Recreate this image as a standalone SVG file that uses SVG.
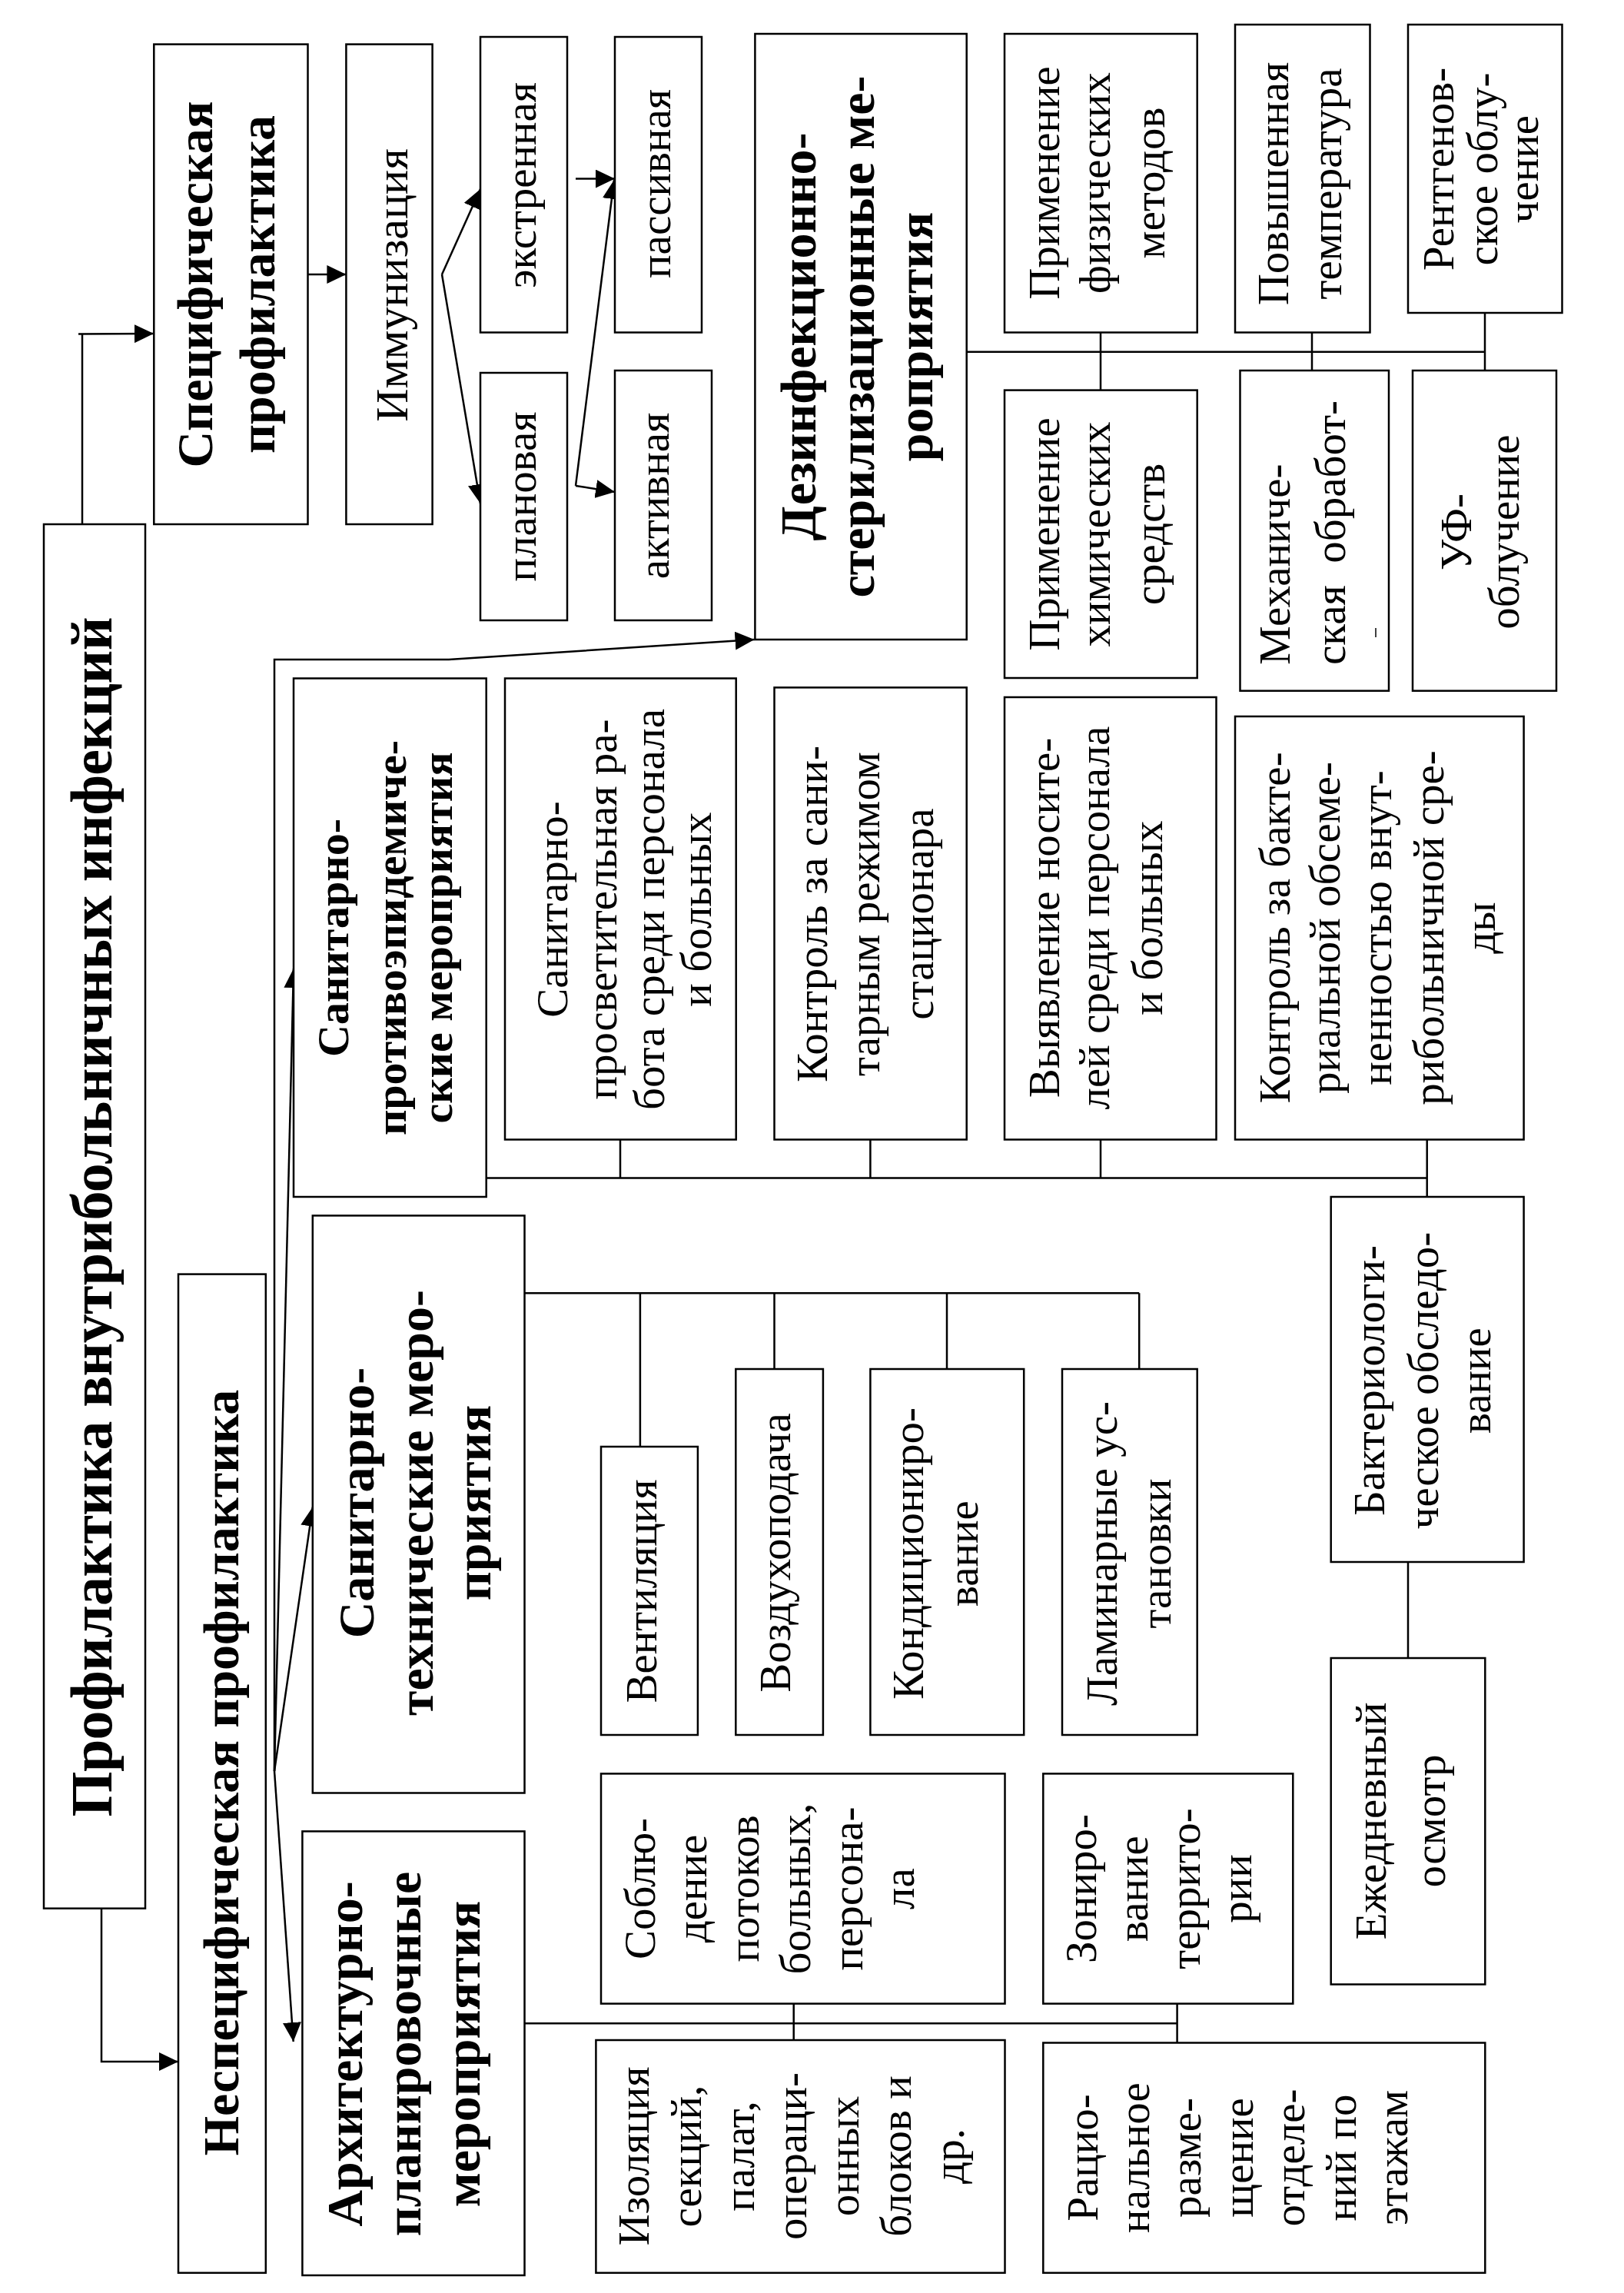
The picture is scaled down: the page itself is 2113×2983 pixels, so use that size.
<svg xmlns="http://www.w3.org/2000/svg" width="2113" height="2983" viewBox="0 0 2113 2983">
<style>
.box{fill:#fff;stroke:#000;stroke-width:2.5}
.ln{fill:none;stroke:#000;stroke-width:2.5}
text{font-family:"Liberation Serif","Times New Roman",serif;fill:#000}
.t{font-size:57px}
.b{font-size:66px;font-weight:bold}
</style>
<defs>
<marker id="ah" markerUnits="userSpaceOnUse" markerWidth="26" markerHeight="24" refX="25" refY="12" orient="auto" viewBox="0 0 26 24"><path d="M0,0 L25,12 L0,24 z" fill="#000"/></marker>
</defs>
<rect width="2113" height="2983" fill="#fff"/>

<g id="connectors" class="ln">
<path d="M107,682 V434"/>
<path d="M102,434.5 L200,434" marker-end="url(#ah)"/>
<path d="M400.5,357 H450.4" marker-end="url(#ah)"/>
<path d="M575,357 L625,246" marker-end="url(#ah)"/>
<path d="M575,357 L625,655" marker-end="url(#ah)"/>
<path d="M749,232.6 H800" marker-end="url(#ah)"/>
<path d="M749,632 L799,234" marker-end="url(#ah)"/>
<path d="M749,632 L800,640" marker-end="url(#ah)"/>
<path d="M357,2304 V858 H584 L981.5,832" marker-end="url(#ah)"/>
<path d="M357,2304 L382,1260" marker-end="url(#ah)"/>
<path d="M357,2304 L406.8,1960.6" marker-end="url(#ah)"/>
<path d="M357,2304 L381.7,2656" marker-end="url(#ah)"/>
<path d="M632.7,1532.4 H1856.7 M807,1482.5 V1532.4 M1132.4,1482.5 V1532.4 M1432,1482.5 V1532.4 M1856.7,1482.5 V1557"/>
<path d="M1257.7,457.7 H1932 M1432,432.5 V507.6 M1707,432.5 V482 M1932,407 V482"/>
<path d="M682.5,1682.3 H1482.2 M832.9,1682.3 V1882 M1007.5,1682.3 V1781 M1232,1682.3 V1781 M1482.2,1682.3 V1781"/>
<path d="M1832,2032 V2157"/>
<path d="M682.5,2632.3 H1531.6 M1032.7,2606.6 V2654 M1531.6,2606.6 V2657.5"/>
<path d="M132,2482.7 V2682 H232" marker-end="url(#ah)"/>
</g>

<g id="n-main"><rect class="box" x="57" y="682" width="132" height="1800.7"/>
<text class="b" style="font-size:76px" text-anchor="middle" transform="translate(57,1583) rotate(-90)"><tspan x="0" y="87.6" textLength="1561" lengthAdjust="spacing">Профилактика внутрибольничных инфекций</tspan></text></g>

<g id="n-spec"><rect class="box" x="200.3" y="57.6" width="200.2" height="624.4"/>
<text class="b" text-anchor="middle" transform="translate(200,370) rotate(-90)"><tspan x="0" y="76">Специфическая</tspan><tspan x="0" y="157">профилактика</tspan></text></g>

<g id="n-immun"><rect class="box" x="450.4" y="57.6" width="112.2" height="624.4"/>
<text class="t" style="font-size:60px" text-anchor="middle" transform="translate(450,371) rotate(-90)"><tspan x="0" y="80">Иммунизация</tspan></text></g>

<g id="n-extr"><rect class="box" x="625" y="48" width="113" height="384.5"/>
<text class="t" text-anchor="middle" transform="translate(625,241) rotate(-90)"><tspan x="0" y="72">экстренная</tspan></text></g>

<g id="n-pass"><rect class="box" x="800" y="48" width="113" height="384.5"/>
<text class="t" text-anchor="middle" transform="translate(800,239) rotate(-90)"><tspan x="0" y="72">пассивная</tspan></text></g>

<g id="n-plan"><rect class="box" x="625" y="485" width="113" height="322"/>
<text class="t" text-anchor="middle" transform="translate(625,646) rotate(-90)"><tspan x="0" y="72">плановая</tspan></text></g>

<g id="n-act"><rect class="box" x="800" y="482" width="126" height="325"/>
<text class="t" text-anchor="middle" transform="translate(800,645) rotate(-90)"><tspan x="0" y="70">активная</tspan></text></g>

<g id="n-dez"><rect class="box" x="982.4" y="44" width="275.3" height="788"/>
<text class="b" text-anchor="middle" transform="translate(982,438) rotate(-90)"><tspan x="0" y="79">Дезинфекционно-</tspan><tspan x="0" y="155">стерилизационные ме-</tspan><tspan x="0" y="231">роприятия</tspan></text></g>

<g id="n-phys"><rect class="box" x="1307" y="44" width="250.7" height="388.5"/>
<text class="t" text-anchor="middle" transform="translate(1307,238) rotate(-90)"><tspan x="0" y="70.6">Применение</tspan><tspan x="0" y="137">физических</tspan><tspan x="0" y="207.6">методов</tspan></text></g>

<g id="n-chem"><rect class="box" x="1307" y="507.6" width="250.7" height="374.4"/>
<text class="t" text-anchor="middle" transform="translate(1307,695) rotate(-90)"><tspan x="0" y="70.6">Применение</tspan><tspan x="0" y="137">химических</tspan><tspan x="0" y="207.6">средств</tspan></text></g>

<g id="n-temp"><rect class="box" x="1607" y="32" width="175.5" height="400.5"/>
<text class="t" text-anchor="middle" transform="translate(1607,239) rotate(-90)"><tspan x="0" y="69.4">Повышенная</tspan><tspan x="0" y="138">температура</tspan></text></g>

<g id="n-xray"><rect class="box" x="1832" y="32" width="200.5" height="375"/>
<text class="t" text-anchor="middle" transform="translate(1832,220) rotate(-90)"><tspan x="0" y="59.4">Рентгенов-</tspan><tspan x="0" y="115.6">ское облу-</tspan><tspan x="0" y="168.6">чение</tspan></text></g>

<g id="n-mech"><rect class="box" x="1613.5" y="482" width="193.5" height="416.7"/>
<text class="t" text-anchor="start" xml:space="preserve" transform="translate(1613.5,865) rotate(-90)"><tspan x="0" y="64.3">Механиче-</tspan><tspan x="0" y="136.2">ская  обработ-</tspan></text>
<path d="M1790,817 V829" stroke="#000" stroke-width="1.5"/></g>

<g id="n-uv"><rect class="box" x="1838" y="482" width="187" height="416.7"/>
<text class="t" text-anchor="middle" transform="translate(1838,692) rotate(-90)"><tspan x="0" y="76">УФ-</tspan><tspan x="0" y="137.5">облучение</tspan></text></g>

<g id="n-spe"><rect class="box" x="382" y="882.5" width="250.7" height="674.5"/>
<text class="b" style="font-size:58px" text-anchor="middle" transform="translate(382,1220) rotate(-90)"><tspan x="0" y="70.6">Санитарно-</tspan><tspan x="0" y="145.6">противоэпидемиче-</tspan><tspan x="0" y="206">ские мероприятия</tspan></text></g>

<g id="n-edu"><rect class="box" x="657" y="882.5" width="300.7" height="600"/>
<text class="t" text-anchor="middle" transform="translate(657,1183) rotate(-90)"><tspan x="0" y="81">Санитарно-</tspan><tspan x="0" y="145">просветительная ра-</tspan><tspan x="0" y="207">бота среди персонала</tspan><tspan x="0" y="268">и больных</tspan></text></g>

<g id="n-ctrl"><rect class="box" x="1007.5" y="894.4" width="250.2" height="588.1"/>
<text class="t" text-anchor="middle" transform="translate(1007.5,1189) rotate(-90)"><tspan x="0" y="68.3">Контроль за сани-</tspan><tspan x="0" y="136.5">тарным режимом</tspan><tspan x="0" y="206.2">стационара</tspan></text></g>

<g id="n-carr"><rect class="box" x="1307" y="907" width="275.5" height="575.5"/>
<text class="t" text-anchor="middle" transform="translate(1307,1194) rotate(-90)"><tspan x="0" y="70.5">Выявление носите-</tspan><tspan x="0" y="136">лей среди персонала</tspan><tspan x="0" y="205">и больных</tspan></text></g>

<g id="n-bact"><rect class="box" x="1607" y="932" width="375.6" height="550.5"/>
<text class="t" text-anchor="middle" transform="translate(1607,1207) rotate(-90)"><tspan x="0" y="70.8">Контроль за бакте-</tspan><tspan x="0" y="136">риальной обсеме-</tspan><tspan x="0" y="203.4">ненностью внут-</tspan><tspan x="0" y="270.9">рибольничной сре-</tspan><tspan x="0" y="338.3">ды</tspan></text></g>

<g id="n-bexam"><rect class="box" x="1731.7" y="1557" width="250.9" height="475"/>
<text class="t" text-anchor="middle" transform="translate(1731.7,1796) rotate(-90)"><tspan x="0" y="69.7">Бактериологи-</tspan><tspan x="0" y="139.3">ческое обследо-</tspan><tspan x="0" y="206.9">вание</tspan></text></g>

<g id="n-daily"><rect class="box" x="1731.7" y="2157" width="200.6" height="424.5"/>
<text class="t" text-anchor="middle" transform="translate(1731.7,2369) rotate(-90)"><tspan x="0" y="71.1">Ежедневный</tspan><tspan x="0" y="148.3">осмотр</tspan></text></g>

<g id="n-tech"><rect class="box" x="406.8" y="1581.4" width="275.7" height="751.1"/>
<text class="b" text-anchor="middle" transform="translate(406.8,1955) rotate(-90)"><tspan x="0" y="79.5">Санитарно-</tspan><tspan x="0" y="156.7">технические меро-</tspan><tspan x="0" y="230.8">приятия</tspan></text></g>

<g id="n-vent"><rect class="box" x="782" y="1882" width="125.9" height="375"/>
<text class="t" text-anchor="middle" transform="translate(782,2070) rotate(-90)"><tspan x="0" y="71.5">Вентиляция</tspan></text></g>

<g id="n-air"><rect class="box" x="957.3" y="1781" width="113.6" height="476"/>
<text class="t" text-anchor="middle" transform="translate(957.3,2020) rotate(-90)"><tspan x="0" y="70.7">Воздухоподача</tspan></text></g>

<g id="n-cond"><rect class="box" x="1132.4" y="1781" width="199.8" height="476"/>
<text class="t" text-anchor="middle" transform="translate(1132.4,2021) rotate(-90)"><tspan x="0" y="69.1">Кондициониро-</tspan><tspan x="0" y="139.6">вание</tspan></text></g>

<g id="n-lam"><rect class="box" x="1382" y="1781" width="175.7" height="476"/>
<text class="t" text-anchor="middle" transform="translate(1382,2021) rotate(-90)"><tspan x="0" y="71">Ламинарные ус-</tspan><tspan x="0" y="140.7">тановки</tspan></text></g>

<g id="n-arch"><rect class="box" x="393.4" y="2382.4" width="289.1" height="577.6"/>
<text class="b" text-anchor="middle" transform="translate(393.4,2672) rotate(-90)"><tspan x="0" y="78.1">Архитектурно-</tspan><tspan x="0" y="153.6">планировочные</tspan><tspan x="0" y="230.6">мероприятия</tspan></text></g>

<g id="n-nonspec"><rect class="box" x="232" y="1657.6" width="113.8" height="1299.2"/>
<text class="b" text-anchor="middle" transform="translate(232,2306) rotate(-90)"><tspan x="0" y="78">Неспецифическая профилактика</tspan></text></g>

<g id="n-flow"><rect class="box" x="782" y="2307.4" width="525.5" height="299.2"/>
<text class="t" text-anchor="middle" transform="translate(782,2457) rotate(-90)"><tspan x="0" y="70">Соблю-</tspan><tspan x="0" y="137.4">дение</tspan><tspan x="0" y="204.8">потоков</tspan><tspan x="0" y="272.2">больных,</tspan><tspan x="0" y="339.6">персона-</tspan><tspan x="0" y="407">ла</tspan></text></g>

<g id="n-iso"><rect class="box" x="775.4" y="2654" width="532.1" height="302.8"/>
<text class="t" text-anchor="middle" transform="translate(775.4,2805) rotate(-90)"><tspan x="0" y="68.6">Изоляция</tspan><tspan x="0" y="136.9">секций,</tspan><tspan x="0" y="205.2">палат,</tspan><tspan x="0" y="273.5">операци-</tspan><tspan x="0" y="341.8">онных</tspan><tspan x="0" y="410.1">блоков и</tspan><tspan x="0" y="478.4">др.</tspan></text></g>

<g id="n-zone"><rect class="box" x="1357.3" y="2307.4" width="325" height="299.2"/>
<text class="t" text-anchor="middle" transform="translate(1357.3,2457) rotate(-90)"><tspan x="0" y="68.7">Зониро-</tspan><tspan x="0" y="136">вание</tspan><tspan x="0" y="203.3">террито-</tspan><tspan x="0" y="270.7">рии</tspan></text></g>

<g id="n-rat"><rect class="box" x="1357.3" y="2657.5" width="575" height="299.3"/>
<text class="t" text-anchor="middle" transform="translate(1357.3,2807) rotate(-90)"><tspan x="0" y="70.7">Рацио-</tspan><tspan x="0" y="137.9">нальное</tspan><tspan x="0" y="205.1">разме-</tspan><tspan x="0" y="272.3">щение</tspan><tspan x="0" y="339.5">отделе-</tspan><tspan x="0" y="406.7">ний по</tspan><tspan x="0" y="473.9">этажам</tspan></text></g>
</svg>
